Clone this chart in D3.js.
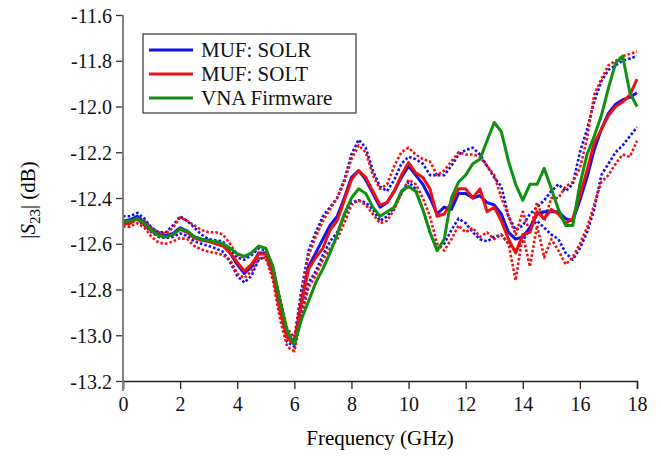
<!DOCTYPE html>
<html><head><script src="https://cdn.jsdelivr.net/npm/d3@7"></script></head>
<body style="margin:0">
<script>
// frequency grid (GHz)
const freq = d3.range(0, 18.001, 0.25)

const solrMain = [-12.50,-12.495,-12.48,-12.51,-12.54,-12.56,-12.565,-12.555,-12.53,-12.545,-12.57,-12.58,-12.585,-12.595,-12.605,-12.64,-12.69,-12.73,-12.70,-12.64,-12.64,-12.72,-12.88,-13.00,-13.04,-12.85,-12.70,-12.64,-12.58,-12.52,-12.48,-12.40,-12.31,-12.28,-12.32,-12.38,-12.44,-12.42,-12.37,-12.31,-12.26,-12.30,-12.34,-12.40,-12.47,-12.44,-12.45,-12.38,-12.38,-12.40,-12.39,-12.42,-12.43,-12.47,-12.55,-12.58,-12.57,-12.53,-12.47,-12.46,-12.46,-12.46,-12.49,-12.50,-12.41,-12.31,-12.19,-12.10,-12.03,-11.99,-11.97,-11.96,-11.94]
const solrUpper = [-12.48,-12.48,-12.465,-12.49,-12.53,-12.55,-12.55,-12.52,-12.48,-12.50,-12.53,-12.56,-12.58,-12.585,-12.59,-12.63,-12.66,-12.67,-12.65,-12.62,-12.63,-12.72,-12.85,-12.98,-13.02,-12.80,-12.63,-12.55,-12.48,-12.44,-12.40,-12.32,-12.21,-12.145,-12.18,-12.28,-12.35,-12.37,-12.32,-12.25,-12.22,-12.23,-12.25,-12.30,-12.30,-12.30,-12.26,-12.21,-12.19,-12.18,-12.21,-12.26,-12.31,-12.35,-12.48,-12.54,-12.52,-12.47,-12.44,-12.41,-12.37,-12.34,-12.37,-12.34,-12.20,-12.10,-11.98,-11.89,-11.84,-11.82,-11.80,-11.79,-11.78]
const solrLower = [-12.51,-12.51,-12.495,-12.52,-12.55,-12.57,-12.575,-12.57,-12.555,-12.565,-12.59,-12.60,-12.61,-12.62,-12.635,-12.68,-12.74,-12.77,-12.74,-12.67,-12.655,-12.74,-12.90,-13.03,-13.05,-12.90,-12.77,-12.72,-12.65,-12.59,-12.55,-12.48,-12.42,-12.41,-12.42,-12.45,-12.50,-12.48,-12.44,-12.38,-12.33,-12.36,-12.45,-12.55,-12.62,-12.60,-12.54,-12.49,-12.51,-12.55,-12.58,-12.59,-12.57,-12.56,-12.60,-12.63,-12.59,-12.53,-12.50,-12.53,-12.56,-12.58,-12.64,-12.67,-12.62,-12.55,-12.45,-12.30,-12.25,-12.20,-12.17,-12.13,-12.09]

const soltMain = [-12.515,-12.51,-12.49,-12.515,-12.545,-12.56,-12.57,-12.56,-12.537,-12.55,-12.575,-12.585,-12.59,-12.60,-12.61,-12.64,-12.68,-12.72,-12.69,-12.645,-12.645,-12.73,-12.89,-13.01,-13.04,-12.86,-12.71,-12.66,-12.62,-12.54,-12.50,-12.41,-12.32,-12.28,-12.31,-12.37,-12.43,-12.42,-12.37,-12.30,-12.245,-12.29,-12.31,-12.36,-12.48,-12.47,-12.42,-12.36,-12.36,-12.40,-12.36,-12.46,-12.44,-12.50,-12.58,-12.64,-12.56,-12.55,-12.46,-12.49,-12.45,-12.47,-12.51,-12.49,-12.39,-12.28,-12.16,-12.10,-12.04,-12.00,-11.98,-11.95,-11.88]
const soltUpper = [-12.50,-12.50,-12.48,-12.50,-12.53,-12.55,-12.555,-12.53,-12.485,-12.50,-12.52,-12.54,-12.55,-12.55,-12.56,-12.60,-12.65,-12.66,-12.64,-12.61,-12.62,-12.70,-12.84,-12.97,-13.01,-12.82,-12.65,-12.57,-12.50,-12.45,-12.40,-12.33,-12.23,-12.17,-12.20,-12.30,-12.36,-12.34,-12.26,-12.20,-12.18,-12.21,-12.23,-12.24,-12.30,-12.28,-12.24,-12.20,-12.21,-12.21,-12.22,-12.26,-12.30,-12.40,-12.48,-12.56,-12.46,-12.55,-12.42,-12.50,-12.40,-12.40,-12.35,-12.33,-12.27,-12.14,-11.95,-11.88,-11.82,-11.80,-11.78,-11.77,-11.76]
const soltLower = [-12.525,-12.525,-12.51,-12.53,-12.57,-12.595,-12.60,-12.59,-12.575,-12.58,-12.61,-12.625,-12.635,-12.64,-12.65,-12.67,-12.73,-12.75,-12.72,-12.665,-12.66,-12.76,-12.93,-13.05,-13.07,-12.92,-12.79,-12.74,-12.67,-12.62,-12.58,-12.51,-12.43,-12.41,-12.43,-12.47,-12.51,-12.50,-12.45,-12.38,-12.32,-12.34,-12.40,-12.48,-12.60,-12.63,-12.58,-12.52,-12.55,-12.53,-12.57,-12.55,-12.58,-12.56,-12.60,-12.76,-12.56,-12.70,-12.52,-12.66,-12.58,-12.63,-12.69,-12.66,-12.60,-12.53,-12.43,-12.33,-12.30,-12.25,-12.21,-12.22,-12.15]

const vnaMain = [-12.50,-12.50,-12.49,-12.51,-12.54,-12.565,-12.57,-12.56,-12.535,-12.545,-12.57,-12.58,-12.587,-12.59,-12.60,-12.62,-12.643,-12.655,-12.64,-12.61,-12.62,-12.70,-12.85,-12.98,-13.04,-12.93,-12.85,-12.77,-12.71,-12.64,-12.56,-12.47,-12.40,-12.36,-12.38,-12.44,-12.48,-12.46,-12.44,-12.37,-12.35,-12.37,-12.45,-12.55,-12.63,-12.58,-12.40,-12.33,-12.30,-12.25,-12.23,-12.15,-12.07,-12.11,-12.24,-12.34,-12.41,-12.34,-12.34,-12.27,-12.36,-12.45,-12.52,-12.52,-12.34,-12.21,-12.13,-12.04,-11.92,-11.81,-11.78,-11.94,-12.00]

const yTicks = [-11.6,-11.8,-12.0,-12.2,-12.4,-12.6,-12.8,-13.0,-13.2]
const xTicks = [0,2,4,6,8,10,12,14,16,18]

const series = [
  {name: "solrUpper", values: solrUpper, color: "#1010f0", dotted: true},
  {name: "solrLower", values: solrLower, color: "#1010f0", dotted: true},
  {name: "soltUpper", values: soltUpper, color: "#f01010", dotted: true},
  {name: "soltLower", values: soltLower, color: "#f01010", dotted: true},
  {name: "MUF: SOLR", values: solrMain, color: "#1010f0"},
  {name: "MUF: SOLT", values: soltMain, color: "#f01010"},
  {name: "VNA Firmware", values: vnaMain, color: "#109010"}
]

const font = "\"Liberation Serif\""
const margin = {top: 15, right: 24, bottom: 75, left: 123}
const width = 661 - margin.left - margin.right
const height = 456 - margin.top - margin.bottom

const root = d3.select("body").append("svg")
  .attr("width", 661)
  .attr("height", 456)
const svg = root.append("g")
  .attr("transform", "translate(" + margin.left + "," + margin.top + ")")

const xScale = d3.scaleLinear().domain([0, 18]).range([0, width])
const yScale = d3.scaleLinear().domain([-13.2, -11.6]).range([height, 0])

const line = d3.line()
  .x((d, i) => xScale(freq[i]))
  .y(d => yScale(d))

svg.selectAll("path.series")
  .data(series)
  .enter()
  .append("path")
    .attr("class", "series")
    .attr("fill", "none")
    .attr("stroke", d => d.color)
    .attr("stroke-width", d => d.dotted ? 2.6 : 3)
    .attr("stroke-dasharray", d => d.dotted ? "2.6,2" : null)
    .attr("stroke-linejoin", "round")
    .attr("d", d => line(d.values))

// x axis
const xAxis = svg.append("g")
  .attr("transform", "translate(0," + height + ")")
  .call(d3.axisBottom(xScale).tickValues(xTicks).tickFormat(d => String(d)).tickSize(8).tickPadding(5))
xAxis.select(".domain").attr("stroke", "#222").attr("stroke-width", 1.5)
xAxis.selectAll(".tick line").attr("stroke", "#222").attr("stroke-width", 1.3)
xAxis.selectAll("text").remove()
xAxis.selectAll(".tick").append("text")
  .attr("y", 30)
  .attr("text-anchor", "middle")
  .style("font-family", font).style("font-size", "20px").style("fill", "#111")
  .text(d => String(d))

// y axis
const yAxis = svg.append("g")
  .call(d3.axisLeft(yScale).tickValues(yTicks).tickSize(7))
yAxis.select(".domain").remove()
yAxis.selectAll(".tick line").attr("stroke", "#333").attr("stroke-width", 1.3)
yAxis.selectAll("text").remove()
yAxis.selectAll(".tick").append("text")
  .attr("x", -11).attr("y", 7)
  .attr("text-anchor", "end")
  .style("font-family", font).style("font-size", "20px").style("fill", "#111")
  .text(d => d.toFixed(1))
svg.append("line")
  .attr("x1", 0).attr("x2", 0)
  .attr("y1", 0).attr("y2", height + 10)
  .attr("stroke", "#808080").attr("stroke-width", 2)

// legend
const legendItems = series.filter(d => !d.dotted)
const legend = svg.append("g").attr("transform", "translate(20,19)")
legend.append("rect")
  .attr("width", 213).attr("height", 79)
  .attr("fill", "#fff").attr("stroke", "#333").attr("stroke-width", 1.2)
legend.selectAll("line.key")
  .data(legendItems)
  .enter()
  .append("line")
    .attr("class", "key")
    .attr("x1", 6).attr("x2", 50)
    .attr("y1", (d, i) => 16 + i * 24).attr("y2", (d, i) => 16 + i * 24)
    .attr("stroke", d => d.color).attr("stroke-width", 3)
legend.selectAll("text.key")
  .data(legendItems)
  .enter()
  .append("text")
    .attr("class", "key")
    .attr("x", 58).attr("y", (d, i) => 23 + i * 24)
    .style("font-family", font).style("font-size", "21px").style("fill", "#111")
    .text(d => d.name)

// axis labels
svg.append("text")
  .attr("text-anchor", "middle")
  .style("font-family", font).style("font-size", "21px")
  .attr("x", width / 2)
  .attr("y", height + 64)
  .text("Frequency (GHz)")

const yLabel = svg.append("text")
  .attr("text-anchor", "middle")
  .attr("transform", "rotate(-90)")
  .style("font-family", font).style("font-size", "21px")
  .attr("x", -185)
  .attr("y", -88)
yLabel.append("tspan").text("|")
yLabel.append("tspan").style("font-style", "italic").text("S")
yLabel.append("tspan").attr("dy", 5).style("font-size", "15px").text("23")
yLabel.append("tspan").attr("dy", -5).text("| (dB)")
</script>
</body>
</html>
